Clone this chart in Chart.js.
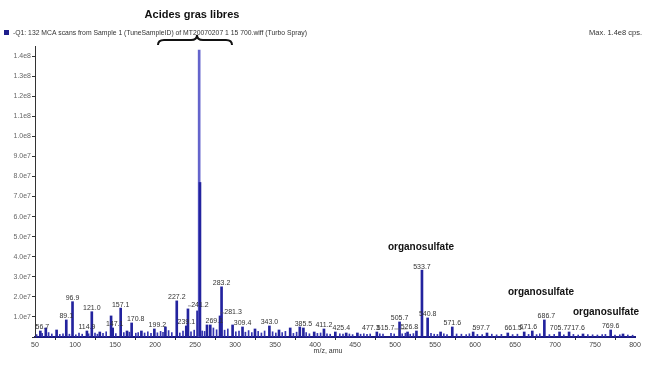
<!DOCTYPE html>
<html>
<head>
<meta charset="utf-8">
<script src="https://cdn.jsdelivr.net/npm/chart.js@4.4.1/dist/chart.umd.min.js"></script>
<style>
  html, body { margin: 0; padding: 0; background: #fff; }
  #wrap { position: relative; width: 647px; height: 373px; }
</style>
</head>
<body>
<div id="wrap"><canvas id="spec" width="647" height="373"></canvas></div>
<script>
// labelled peaks: m/z, intensity (cps), label text
const peakMz = [56.7, 63.5, 77.0, 89.1, 96.9, 114.9, 121.0, 131.0, 145.1, 147.1, 157.1, 165.0, 170.8, 183.0,
    199.2, 213.0, 227.2, 239.1, 241.2, 253.2, 255.2, 256.2, 265.0, 269.1, 281.3, 283.2, 297.0, 309.4,
    325.0, 343.0, 355.0, 369.0, 381.0, 385.5, 399.0, 411.2, 425.4, 439.0, 453.0, 477.3, 515.7, 505.7,
    526.8, 533.7, 540.8, 557.0, 571.6, 597.7, 615.0, 641.0, 661.5, 671.6, 686.7, 705.7, 717.6, 735.0,
    769.6, 785.0];
const peakIntensity = [3.0e6, 4.5e6, 3.5e6, 8.5e6, 1.76e7, 3.0e6, 1.26e7, 2.5e6, 1.05e7, 4.5e6, 1.44e7, 3.0e6, 7.0e6, 3.0e6,
    4.0e6, 5.0e6, 1.8e7, 5.5e6, 1.4e7, 1.3e7, 1.43e8, 7.7e7, 6.0e6, 6.0e6, 1.05e7, 2.5e7, 6.0e6, 5.0e6,
    4.0e6, 5.5e6, 3.5e6, 4.5e6, 5.0e6, 4.5e6, 2.5e6, 4.0e6, 2.5e6, 2.0e6, 2.0e6, 2.5e6, 2.5e6, 7.5e6,
    3.0e6, 3.33e7, 9.5e6, 2.5e6, 5.0e6, 2.5e6, 2.0e6, 2.0e6, 2.5e6, 3.0e6, 8.5e6, 2.5e6, 2.5e6, 1.5e6,
    3.5e6, 1.5e6];
const peakLabels = ['56.7', '', '', '89.1', '96.9', '114.9', '121.0', '', '', '147.1', '157.1', '', '170.8', '',
    '199.2', '', '227.2', '239.1', '241.2', '', '', '', '', '269.1', '281.3', '283.2', '', '309.4',
    '', '343.0', '', '', '', '385.5', '', '411.2', '425.4', '', '', '477.3', '515.7', '505.7',
    '526.8', '533.7', '540.8', '', '571.6', '597.7', '', '', '661.5', '671.6', '686.7', '705.7', '717.6', '',
    '769.6', ''];

// small baseline peaks
const noiseMz = [52, 59, 67, 71, 81, 85, 93, 101, 105, 109, 117, 125, 128, 135, 139, 151, 161, 168, 176, 179,
    187, 191, 195, 203, 207, 210, 217, 221, 231, 235, 245, 249, 259, 262, 273, 277, 287, 291, 301, 305,
    313, 317, 321, 329, 333, 337, 347, 351, 359, 363, 373, 377, 389, 393, 403, 407, 415, 419, 431, 435,
    443, 447, 457, 461, 465, 469, 481, 485, 495, 499, 509, 513, 519, 523, 545, 549, 553, 561, 565, 577,
    583, 589, 593, 603, 609, 621, 627, 633, 647, 653, 667, 677, 681, 693, 699, 711, 723, 729, 741, 747,
    753, 759, 763, 775, 781, 791, 797];
const noiseIntensity = [1.2e6, 1.8e6, 2.2e6, 1.5e6, 1.3e6, 1.6e6, 1.4e6, 1.1e6, 1.9e6, 1.4e6, 1.6e6, 2.0e6, 1.4e6, 1.8e6, 2.6e6, 1.7e6, 2.2e6, 2.4e6, 1.9e6, 2.2e6,
    2.0e6, 2.6e6, 1.8e6, 2.1e6, 2.8e6, 2.3e6, 3.2e6, 2.2e6, 2.0e6, 3.0e6, 2.6e6, 3.4e6, 3.0e6, 2.8e6, 4.5e6, 3.6e6, 3.4e6, 4.0e6, 2.6e6, 3.0e6,
    2.4e6, 3.2e6, 2.2e6, 2.8e6, 2.0e6, 3.0e6, 2.6e6, 2.0e6, 2.2e6, 2.8e6, 1.8e6, 2.4e6, 2.2e6, 1.6e6, 1.8e6, 2.0e6, 1.6e6, 1.4e6, 1.6e6, 1.4e6,
    1.5e6, 1.2e6, 1.4e6, 1.6e6, 1.3e6, 1.5e6, 1.6e6, 1.4e6, 1.8e6, 1.5e6, 1.6e6, 1.9e6, 1.4e6, 1.7e6, 1.8e6, 1.4e6, 1.3e6, 1.6e6, 1.2e6, 1.5e6,
    1.4e6, 1.2e6, 1.6e6, 1.3e6, 1.2e6, 1.4e6, 1.1e6, 1.3e6, 1.2e6, 1.4e6, 1.3e6, 1.2e6, 1.6e6, 1.2e6, 1.3e6, 1.1e6, 1.3e6, 1.0e6, 1.2e6, 1.1e6,
    1.0e6, 1.2e6, 1.3e6, 1.0e6, 1.1e6, 1.0e6, 0.9e6];

const BLUE = '#23239e';
const FONT = "'Liberation Sans', Arial, sans-serif";

// label offsets (px) where the instrument software pushed labels aside
const labelShift = {'241.2': 12, '281.3': 13, '269.1': 4, '515.7': -22, '477.3': -6, '526.8': -7,
    '597.7': 8, '686.7': 2, '705.7': -1, '717.6': 7, '661.5': -11, '671.6': -4, '425.4': 6, '147.1': 2,
    '170.8': 4, '199.2': 3, '56.7': 2};

const annotations = {
    id: 'annotations',
    afterDatasetsDraw(chart) {
        const {ctx, scales: {x, y}} = chart;
        ctx.save();
        ctx.font = `7px ${FONT}`;
        ctx.fillStyle = '#333';
        ctx.strokeStyle = '#555';
        ctx.lineWidth = 0.6;
        ctx.textAlign = 'center';
        ctx.textBaseline = 'bottom';
        peakLabels.forEach((txt, i) => {
            if (!txt) return;
            const px = x.getPixelForValue(peakMz[i]);
            const py = y.getPixelForValue(peakIntensity[i]);
            const dx = labelShift[txt] || 0;
            ctx.fillText(txt, px + dx, py);
            if (Math.abs(dx) > 6) {
                const w = ctx.measureText(txt).width / 2;
                ctx.beginPath();
                ctx.moveTo(px, py - 3);
                ctx.lineTo(px + dx - Math.sign(dx) * w, py - 3);
                ctx.stroke();
            }
        });
        ctx.restore();
    },
    afterDraw(chart) {
        const ctx = chart.ctx;
        ctx.save();
        // header line
        ctx.fillStyle = '#1e1e8c';
        ctx.fillRect(4, 30, 5, 5);
        ctx.fillStyle = '#333';
        ctx.font = `6.8px ${FONT}`;
        ctx.textBaseline = 'middle';
        ctx.textAlign = 'left';
        ctx.fillText('-Q1: 132 MCA scans from Sample 1 (TuneSampleID) of MT20070207 1 15 700.wiff (Turbo Spray)', 13, 33);
        ctx.textAlign = 'right';
        ctx.font = `7.5px ${FONT}`;
        ctx.fillText('Max. 1.4e8 cps.', 642, 33);
        ctx.textAlign = 'center';
        ctx.font = `7px ${FONT}`;
        ctx.fillText('m/z, amu', 328, 351);

        // bold annotations
        ctx.fillStyle = '#111';
        ctx.font = `bold 11px ${FONT}`;
        ctx.fillText('Acides gras libres', 192, 15);
        ctx.font = `bold 10px ${FONT}`;
        ctx.fillText('organosulfate', 421, 247);
        ctx.fillText('organosulfate', 541, 292);
        ctx.fillText('organosulfate', 606, 312);

        // curly brace
        ctx.strokeStyle = '#111';
        ctx.lineWidth = 2;
        ctx.beginPath();
        ctx.moveTo(158, 45);
        ctx.quadraticCurveTo(158, 40, 164, 40);
        ctx.lineTo(191, 40);
        ctx.quadraticCurveTo(197, 40, 197, 35);
        ctx.quadraticCurveTo(197, 40, 203, 40);
        ctx.lineTo(226, 40);
        ctx.quadraticCurveTo(232, 40, 232, 45);
        ctx.stroke();
        ctx.restore();
    }
};

const peakPoints = peakMz.map((m, i) => ({x: m, y: peakIntensity[i]}));
const noisePoints = noiseMz.map((m, i) => ({x: m, y: noiseIntensity[i]}));

new Chart(document.getElementById('spec'), {
    type: 'bar',
    data: {
        datasets: [{
            data: peakPoints,
            backgroundColor: peakMz.map(m => m === 255.2 ? '#6464cc' : BLUE),
            barThickness: 2,
            grouped: false
        }, {
            data: noisePoints,
            backgroundColor: '#3434b0',
            barThickness: 1,
            grouped: false
        }]
    },
    options: {
        responsive: false,
        animation: false,
        layout: {padding: {left: 0, right: 12, top: 46, bottom: 0}},
        plugins: {legend: {display: false}, tooltip: {enabled: false}},
        scales: {
            x: {
                type: 'linear',
                offset: false,
                min: 50,
                max: 800,
                grid: {display: true, drawOnChartArea: false, tickLength: 3, color: '#333'},
                border: {color: '#1a1a80', width: 2},
                ticks: {stepSize: 50, font: {size: 7, family: FONT}, color: '#444', padding: 1, maxRotation: 0},
                afterFit(scale) { scale.height = 36; }
            },
            y: {
                min: 0,
                max: 1.45e8,
                grid: {display: true, drawOnChartArea: false, tickLength: 3, color: '#333'},
                border: {color: '#333', width: 1},
                ticks: {
                    stepSize: 5e6,
                    font: {size: 7, family: FONT},
                    color: '#666',
                    padding: 1,
                    callback: v => (v > 0 && Math.round(v / 5e6) % 2 === 0) ? v.toExponential(1).replace('e+', 'e') : ''
                },
                afterBuildTicks(scale) {
                    scale.ticks = scale.ticks.filter(t => t.value <= 1.4e8);
                },
                afterFit(scale) { scale.width = 35; }
            }
        }
    },
    plugins: [annotations]
});
</script>
</body>
</html>
